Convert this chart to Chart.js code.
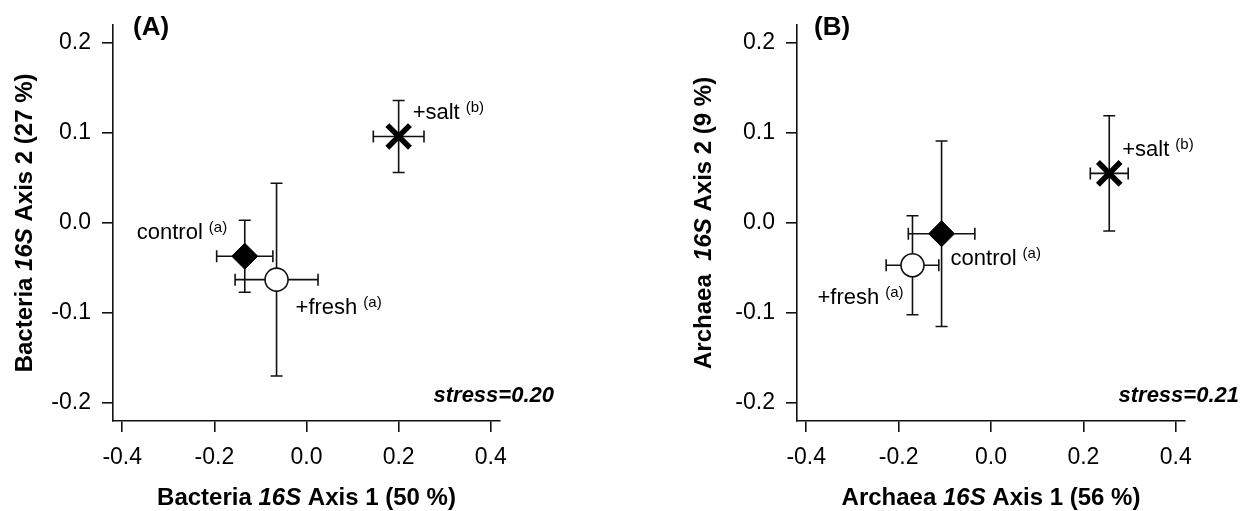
<!DOCTYPE html>
<html lang="en">
<head>
  <meta charset="UTF-8" />
  <title>16S NMDS - Bacteria / Archaea</title>
  <script src="https://cdn.jsdelivr.net/npm/chart.js"></script>
  <style>
    body { margin: 0; background: #fff; }
    .wrap { position: relative; width: 1241px; height: 511px; }
    .panel { position: absolute; top: 0; height: 511px; }
    #panelA { left: 0; width: 620px; }
    #panelB { left: 620px; width: 621px; }
  </style>
</head>
<body>
  <div class="wrap">
    <div class="panel" id="panelA"><canvas id="chartA"></canvas></div>
    <div class="panel" id="panelB"><canvas id="chartB"></canvas></div>
  </div>

  <script>
    // treatments, in the same order in every array below
    const treatments = ['control', '+fresh', '+salt'];
    const groupLetters = ['(a)', '(a)', '(b)'];

    // (A) Bacteria: centroid and error (+/-) on both axes
    const bacX = [-0.134, -0.065, 0.200];
    const bacY = [-0.037, -0.063, 0.096];
    const bacXErr = [0.061, 0.090, 0.055];
    const bacYErr = [0.040, 0.107, 0.040];

    // (B) Archaea
    const arcX = [-0.107, -0.170, 0.256];
    const arcY = [-0.012, -0.047, 0.055];
    const arcXErr = [0.072, 0.057, 0.041];
    const arcYErr = [0.103, 0.055, 0.064];

    const xTicks = [-0.4, -0.2, 0.0, 0.2, 0.4];
    const yTicks = [-0.2, -0.1, 0.0, 0.1, 0.2];

    const FONT = "Arial, 'Liberation Sans', Helvetica, sans-serif";
    const INK = '#111';

    // error bars, drawn under the markers
    const errorBars = {
      id: 'errorBars',
      beforeDatasetsDraw(chart, args, o) {
        const { ctx, scales: { x, y } } = chart;
        ctx.save();
        ctx.strokeStyle = INK;
        ctx.lineWidth = 1.6;
        o.xs.forEach((xv, i) => {
          const yv = o.ys[i];
          const px = x.getPixelForValue(xv), py = y.getPixelForValue(yv);
          const x0 = x.getPixelForValue(xv - o.xErr[i]), x1 = x.getPixelForValue(xv + o.xErr[i]);
          const y0 = y.getPixelForValue(yv - o.yErr[i]), y1 = y.getPixelForValue(yv + o.yErr[i]);
          const c = 6;
          ctx.beginPath();
          ctx.moveTo(x0, py); ctx.lineTo(x1, py);
          ctx.moveTo(x0, py - c); ctx.lineTo(x0, py + c);
          ctx.moveTo(x1, py - c); ctx.lineTo(x1, py + c);
          ctx.moveTo(px, y0); ctx.lineTo(px, y1);
          ctx.moveTo(px - c, y0); ctx.lineTo(px + c, y0);
          ctx.moveTo(px - c, y1); ctx.lineTo(px + c, y1);
          ctx.stroke();
        });
        ctx.restore();
      }
    };

    // point labels, titles, panel letter, stress value
    const annotations = {
      id: 'annotations',
      afterDatasetsDraw(chart, args, o) {
        const { ctx, chartArea: ca, scales: { x, y } } = chart;
        ctx.save();
        ctx.fillStyle = '#000';
        ctx.textBaseline = 'alphabetic';

        // labels next to each centroid
        o.xs.forEach((xv, i) => {
          const px = x.getPixelForValue(xv) + o.offsets[i][0];
          const py = y.getPixelForValue(o.ys[i]) + o.offsets[i][1];
          ctx.textAlign = 'left';
          ctx.font = `22px ${FONT}`;
          ctx.fillText(treatments[i], px, py);
          const w = ctx.measureText(treatments[i]).width;
          ctx.font = `15px ${FONT}`;
          ctx.fillText(groupLetters[i], px + w + 6, py - 7);
        });

        // mixed bold / bold-italic titles
        const drawParts = (parts, cx, cy) => {
          let total = 0;
          parts.forEach(p => { ctx.font = `${p[1]} 24px ${FONT}`; total += ctx.measureText(p[0]).width; });
          let cur = cx - total / 2;
          ctx.textAlign = 'left';
          parts.forEach(p => {
            ctx.font = `${p[1]} 24px ${FONT}`;
            ctx.fillText(p[0], cur, cy);
            cur += ctx.measureText(p[0]).width;
          });
        };
        drawParts(o.xTitle, (ca.left + ca.right) / 2, 505);
        ctx.save();
        ctx.translate(ca.left - o.yTitleGap, (ca.top + ca.bottom) / 2);
        ctx.rotate(-Math.PI / 2);
        drawParts(o.yTitle, 0, 0);
        ctx.restore();

        ctx.textAlign = 'left';
        ctx.font = `bold 26px ${FONT}`;
        ctx.fillText(o.letter, ca.left + o.letterGap, 35);

        ctx.textAlign = 'right';
        ctx.font = `italic bold 22px ${FONT}`;
        ctx.fillText(o.stress, ca.right + 54, 402);
        ctx.restore();
      }
    };

    function makePanel(id, xs, ys, xErr, yErr, extra) {
      const pts = xs.map((v, i) => ({ x: v, y: ys[i] }));
      return new Chart(document.getElementById(id), {
        type: 'scatter',
        data: {
          datasets: [{
            data: pts,
            pointStyle: ['rectRot', 'circle', 'crossRot'],
            pointRadius: [13, 11.5, 16],
            pointHoverRadius: [13, 11.5, 16],
            pointBackgroundColor: ['#000', '#fff', '#000'],
            pointBorderColor: ['#000', INK, '#000'],
            pointBorderWidth: [1, 1.6, 5.5]
          }]
        },
        options: {
          responsive: true,
          maintainAspectRatio: false,
          animation: false,
          events: [],
          layout: { padding: { left: 0, top: 20, right: extra.padRight, bottom: 0 } },
          plugins: {
            legend: { display: false },
            tooltip: { enabled: false },
            errorBars: { xs, ys, xErr, yErr },
            annotations: Object.assign({ xs, ys }, extra)
          },
          scales: {
            x: {
              type: 'linear', min: -0.42, max: 0.42,
              afterBuildTicks: s => { s.ticks = xTicks.map(v => ({ value: v })); },
              afterFit: s => { s.height = 90; },
              ticks: { callback: v => v.toFixed(1), color: '#000', padding: 12, maxRotation: 0, autoSkip: false,
                       font: { size: 23, family: FONT } },
              grid: { drawOnChartArea: false, drawTicks: true, tickLength: 11, color: INK, lineWidth: 1.6 },
              border: { display: true, color: INK, width: 1.6 }
            },
            y: {
              type: 'linear', min: -0.22, max: 0.22,
              afterBuildTicks: s => { s.ticks = yTicks.map(v => ({ value: v })); },
              afterFit: s => { s.width = extra.yWidth; },
              ticks: { callback: v => v.toFixed(1), color: '#000', padding: 11, autoSkip: false,
                       font: { size: 23, family: FONT } },
              grid: { drawOnChartArea: false, drawTicks: true, tickLength: 11, color: INK, lineWidth: 1.6 },
              border: { display: true, color: INK, width: 1.6 }
            }
          }
        },
        plugins: [errorBars, annotations]
      });
    }

    makePanel('chartA', bacX, bacY, bacXErr, bacYErr, {
      yWidth: 113, padRight: 120, yTitleGap: 81, letterGap: 20,
      letter: '(A)', stress: 'stress=0.20',
      xTitle: [['Bacteria ', 'bold'], ['16S', 'italic bold'], [' Axis 1 (50 %)', 'bold']],
      yTitle: [['Bacteria ', 'bold'], ['16S', 'italic bold'], [' Axis 2 (27 %)', 'bold']],
      offsets: [[-108, -17], [19, 34], [14, -17]]
    });

    makePanel('chartB', arcX, arcY, arcXErr, arcYErr, {
      yWidth: 177, padRight: 56, yTitleGap: 86, letterGap: 17,
      letter: '(B)', stress: 'stress=0.21',
      xTitle: [['Archaea ', 'bold'], ['16S', 'italic bold'], [' Axis 1 (56 %)', 'bold']],
      yTitle: [['Archaea  ', 'bold'], ['16S', 'italic bold'], [' Axis 2 (9 %)', 'bold']],
      offsets: [[9, 31], [-95, 39], [13, -17]]
    });
  </script>
</body>
</html>
